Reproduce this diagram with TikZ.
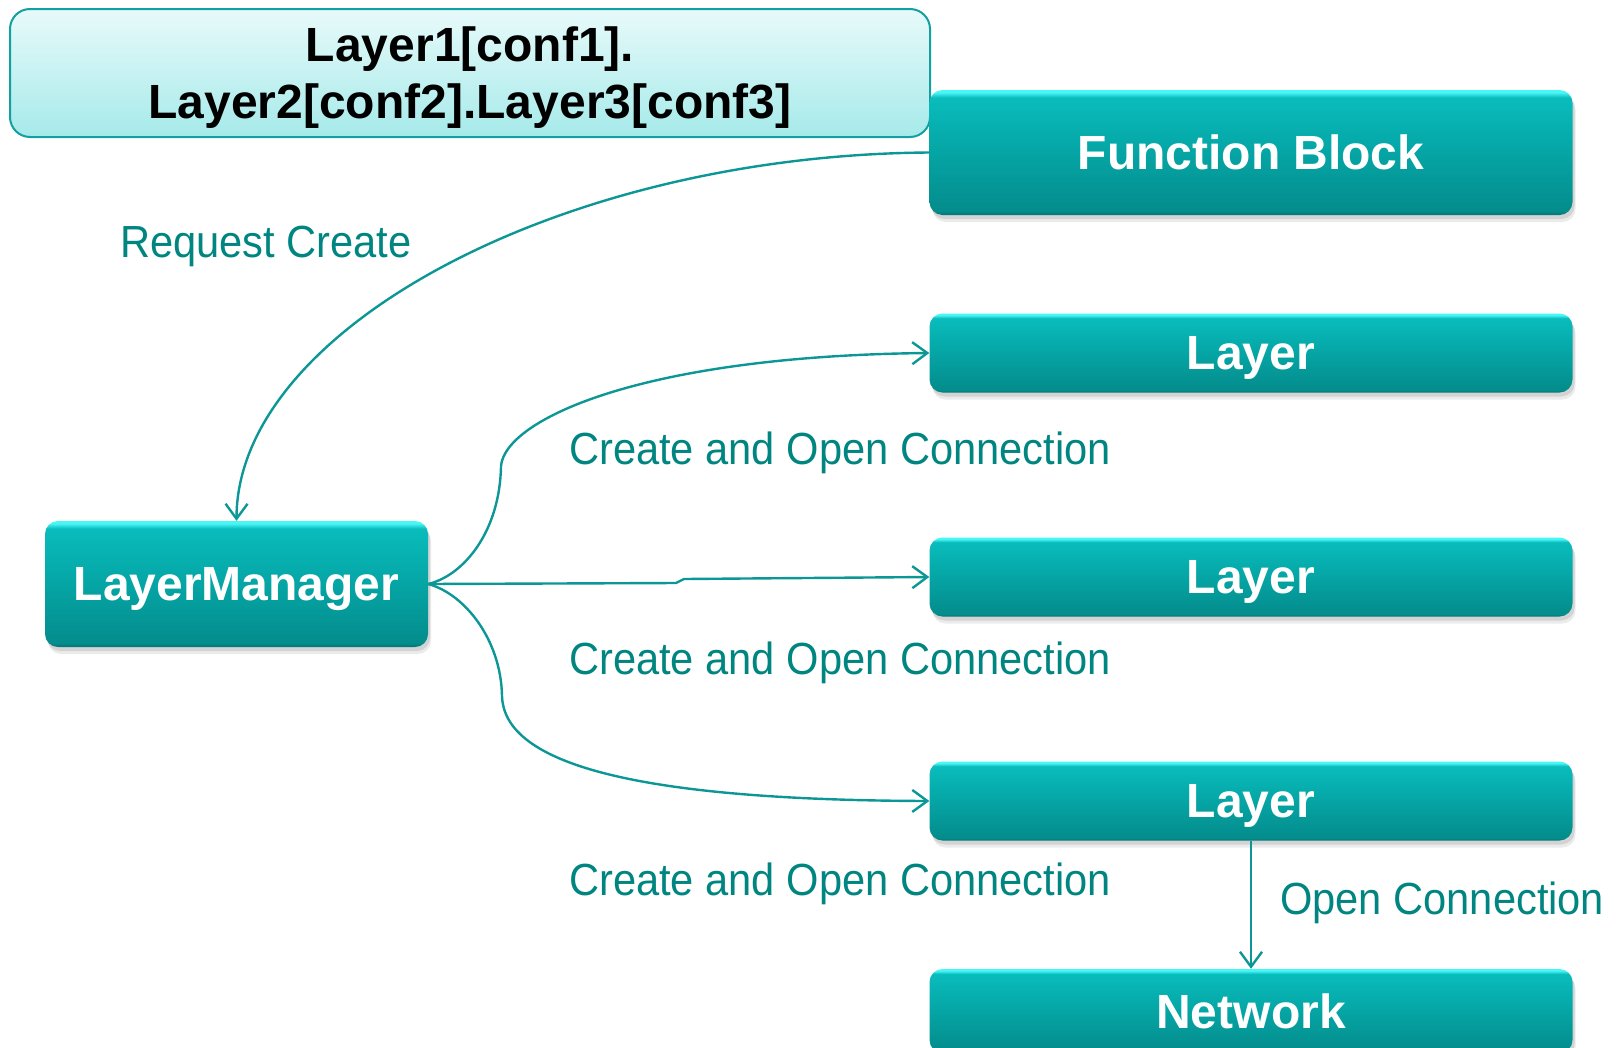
\documentclass[tikz,border=0pt]{standalone}
\usepackage{fontspec}
\setmainfont{Liberation Sans}
\newfontfamily\lblfont[FakeStretch=0.925]{Liberation Sans}
\usetikzlibrary{arrows.meta,shadows}

\definecolor{tealdk}{RGB}{6,112,112}
\definecolor{tealbot}{RGB}{4,140,140}
\definecolor{tealmid}{RGB}{6,170,170}
\definecolor{tealtop}{RGB}{10,188,188}
\definecolor{tealhi}{RGB}{72,246,246}
\definecolor{specedge}{RGB}{18,160,160}
\definecolor{spectop}{RGB}{232,250,250}
\definecolor{specbot}{RGB}{166,234,234}
\definecolor{wire}{RGB}{12,150,150}
\definecolor{lbltext}{RGB}{0,133,128}

% glossy vertical gradient for the teal boxes
\pgfdeclareverticalshading{tealbox}{100bp}{color(0bp)=(tealdk); color(25bp)=(tealdk);
  color(26.5bp)=(tealbot); color(55bp)=(tealmid); color(72bp)=(tealtop);
  color(74bp)=(tealhi); color(100bp)=(tealhi)}

\tikzset{
  softshadow/.style={
    general shadow={fill=black, opacity=0.10, shadow xshift=2pt, shadow yshift=-4pt},
    general shadow={fill=black, opacity=0.08, shadow xshift=3pt, shadow yshift=-7pt}},
  blk/.style={softshadow, shading=tealbox, rounded corners=13pt, inner sep=0pt,
    text depth=0pt, text=white, font=\bfseries\fontsize{48}{56}\selectfont},
  layerbox/.style={blk, minimum width=643pt, minimum height=79pt},
  specbox/.style={draw=specedge, line width=2pt, rounded corners=20pt,
    top color=spectop, bottom color=specbot, inner sep=0pt, align=center,
    text depth=0pt, text=black, font=\bfseries\fontsize{48}{57}\selectfont},
  lbl/.style={anchor=base west, inner sep=0pt, text=lbltext,
    font=\lblfont\fontsize{45}{50}\selectfont},
  conn/.style={draw=wire, line width=2.4pt,
    -{Straight Barb[length=15pt,width=22pt,line width=2.4pt]}},
}

\begin{document}
\begin{tikzpicture}[x=1pt,y=-1pt]
\useasboundingbox (0,0) rectangle (1616,1047);
\clip (0,0) rectangle (1616,1047);

% configuration string
\node[specbox, minimum width=920pt, minimum height=128pt] (spec) at (470,73)
  {Layer1[conf1].\\Layer2[conf2].Layer3[conf3]};

% boxes
\node[blk, minimum width=643pt, minimum height=125pt] (fb) at (1251,152.5) {Function Block};
\node[layerbox] (l1) at (1251,353) {Layer};
\node[layerbox] (l2) at (1251,577) {Layer};
\node[layerbox] (l3) at (1251,801) {Layer};
\node[layerbox, minimum height=84pt] (net) at (1251,1011) {Network};
\node[blk, minimum width=383pt, minimum height=126pt] (lm) at (236.5,584) {LayerManager};

% labels
\node[lbl] (rq) at (120,257) {Request Create};
\node[lbl] (c1) at (569,464) {Create and Open Connection};
\node[lbl] (c2) at (569,674) {Create and Open Connection};
\node[lbl] (c3) at (569,895) {Create and Open Connection};
\node[lbl] (oc) at (1280,914) {Open Connection};

% connectors
\draw[conn] (fb.west) .. controls (560,155) and (237,330) .. (lm.north);
\draw[conn] (lm.east) .. controls (465,575) and (500,530) .. (501,466)
  .. controls (505,420) and (640,356) .. (l1.west);
\draw[conn] (lm.east) -- (676,583) -- (684,579) -- (l2.west);
\draw[conn] (lm.east) .. controls (465,594) and (501,640) .. (502,696)
  .. controls (504,760) and (620,800) .. (l3.west);
\draw[conn] (l3.south) -- (net.north);
\end{tikzpicture}
\end{document}
